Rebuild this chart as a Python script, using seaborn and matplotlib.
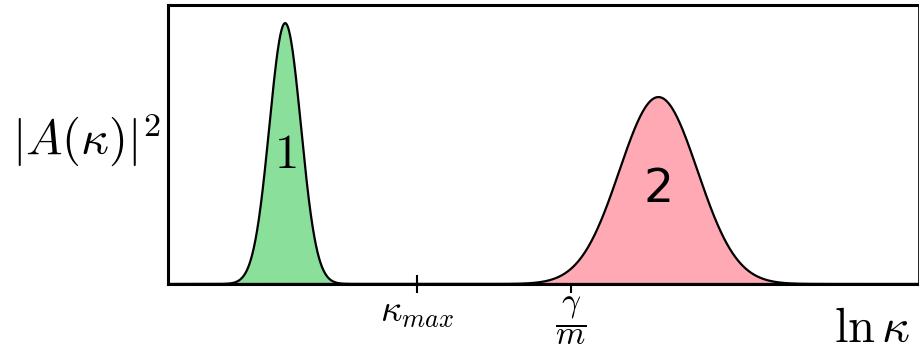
import numpy as np
import pandas as pd
import matplotlib
matplotlib.use("Agg")
import matplotlib.pyplot as plt
import seaborn as sns

sns.set_style("white")
plt.rcParams["mathtext.fontset"] = "cm"
plt.rcParams["font.family"] = ["DejaVu Sans"]
plt.rcParams["text.color"] = "black"
plt.rcParams["xtick.color"] = "black"

# Two spectral bands on a ln(kappa) axis
peak_labels = ["$1$", "2"]
peak_centers = [1.56, 6.53]
peak_heights = [0.935, 0.67]
peak_widths = [0.21, 0.52]
peak_colors = ["#8ae09b", "#ffa9b5"]
label_heights = [0.465, 0.34]

tick_positions = [3.32, 5.36]
tick_labels = [r"$\kappa_{max}$", r"$\dfrac{\gamma}{m}$"]
tick_sizes = [27, 24]

x = np.linspace(0, 10, 2001)
frames = []
for lab, c, h, w in zip(peak_labels, peak_centers, peak_heights, peak_widths):
    frames.append(pd.DataFrame({"lnk": x, "A2": h * np.exp(-(x - c) ** 2 / (2 * w ** 2)), "band": lab}))
df = pd.concat(frames, ignore_index=True)

fig = plt.figure(figsize=(9.2, 3.56), dpi=100)
ax = fig.add_axes([0.1826, 0.2022, 0.8164, 0.7838])

for lab, col in zip(peak_labels, peak_colors):
    sub = df[df["band"] == lab]
    ax.fill_between(sub["lnk"], sub["A2"], color=col, lw=0)
sns.lineplot(data=df, x="lnk", y="A2", hue="band", palette=["black", "black"],
             lw=1.6, legend=False, ax=ax, estimator=None, sort=False)

for lab, c, ly in zip(peak_labels, peak_centers, label_heights):
    size = 35 if lab.startswith("$") else 34
    ax.text(c, ly, lab, ha="center", va="center", fontsize=size, color="black")

ax.set_xlim(0, 10)
ax.set_ylim(0, 1)
ax.set_yticks([])
ax.set_xticks(tick_positions)
ax.set_xticklabels(tick_labels)
for t, s in zip(ax.get_xticklabels(), tick_sizes):
    t.set_fontsize(s)
ax.tick_params(axis="x", bottom=True, direction="inout", length=13, width=1.5,
               pad=1, colors="black")
for s in ax.spines.values():
    s.set_color("black")
    s.set_linewidth(2.2)
ax.spines["right"].set_linewidth(1.2)
ax.set_xlabel("")
ax.set_ylabel("")

fig.text(0.0935, 0.607, r"$|A(\kappa)|^2$", ha="center", va="center", fontsize=35)
fig.text(0.948, 0.079, r"$\ln\kappa$", ha="center", va="center", fontsize=35)

fig.savefig("out.png", dpi=100)
